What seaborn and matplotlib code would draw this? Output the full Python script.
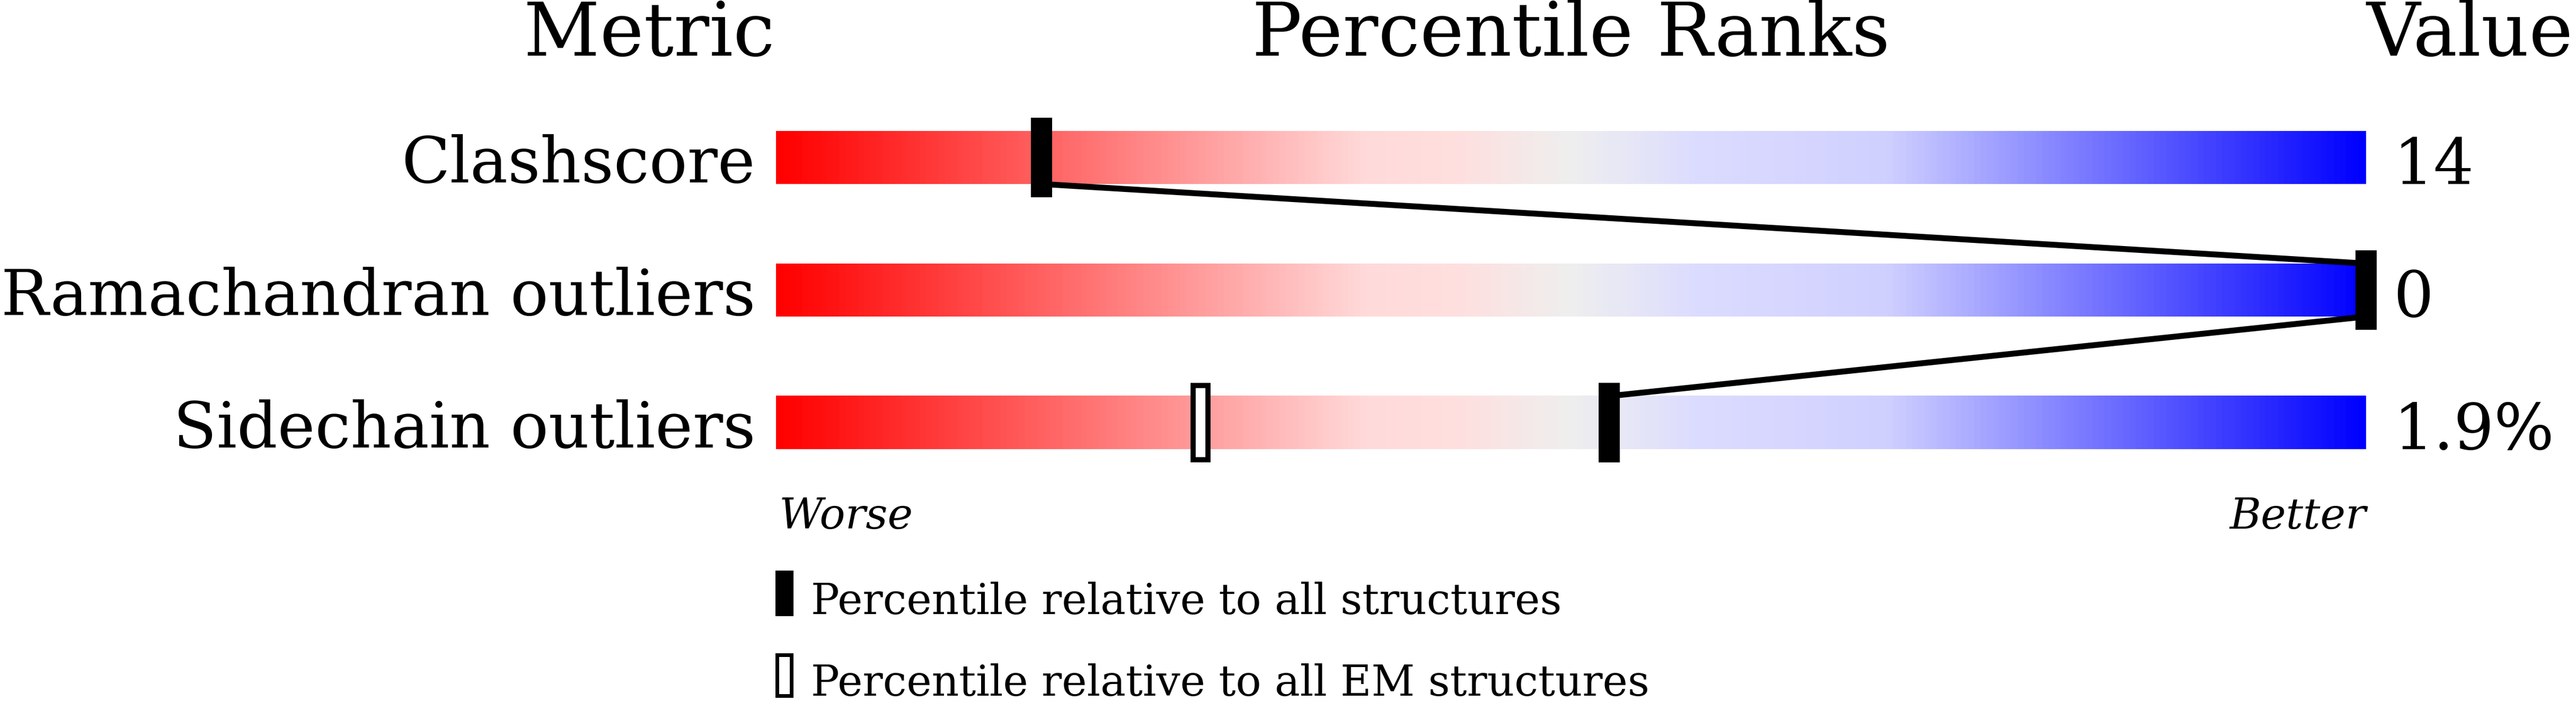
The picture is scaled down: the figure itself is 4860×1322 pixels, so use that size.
import numpy as np
import pandas as pd
import matplotlib
matplotlib.use("Agg")
import matplotlib.pyplot as plt
import seaborn as sns
from matplotlib.colors import LinearSegmentedColormap
from matplotlib.patches import Rectangle

# data
metrics = ["Clashscore", "Ramachandran outliers", "Sidechain outliers"]
values = ["14", "0", "1.9%"]
pct_all = [16.7, 100.0, 52.4]          # percentile relative to all structures
pct_em = [None, None, 26.7]            # percentile relative to all EM structures
legend_labels = ["Percentile relative to all structures",
                 "Percentile relative to all EM structures"]

sns.set_style("white")
plt.rcParams['font.family'] = ['DejaVu Serif']
plt.rcParams['text.color'] = 'black'

W, H, DPI = 4860, 1322, 100
fig = plt.figure(figsize=(W / DPI, H / DPI), dpi=DPI)
# bar area 1464..4464 px, rows every 250 px starting at 297 px
ax = fig.add_axes([1464 / W, 0, 3000 / W, 1])
ax.axis('off')

# slider colours, red (worse) -> grey -> blue (better)
slider = LinearSegmentedColormap.from_list("slider", [
    (0.0, "#ff0000"), (0.37, "#ffdada"), (0.43, "#ffdfdf"),
    (0.5, "#efefef"), (0.58, "#dcdcff"), (0.70, "#d0d0ff"), (1.0, "#0000ff")])
grad = np.linspace(0, 1, 600).reshape(1, -1)

bar_h = 0.4
for i, name in enumerate(metrics):
    ax.imshow(grad, cmap=slider, aspect='auto', interpolation='bilinear',
              extent=(0, 100, i + bar_h / 2, i - bar_h / 2), zorder=1)
    ax.text(-1.3, i + 0.19, name, ha='right', va='baseline', fontsize=86)
    ax.text(101.7, i + 0.2, values[i], ha='left', va='baseline', fontsize=86)

# connecting line through the "all structures" markers
pts = []
for i, p in enumerate(pct_all):
    if i > 0:
        pts.append((p, i - bar_h / 2))
    if i < len(pct_all) - 1:
        pts.append((p, i + bar_h / 2))
line_df = pd.DataFrame(pts, columns=["pct", "row"])
sns.lineplot(data=line_df, x="pct", y="row", sort=False, color="black",
             linewidth=8, ax=ax, zorder=2, estimator=None)

mw, mh = 1.33, 0.6
for i, p in enumerate(pct_all):
    ax.add_patch(Rectangle((p - mw / 2, i - mh / 2), mw, mh, facecolor='black',
                           edgecolor='none', zorder=3, clip_on=False))
for i, p in enumerate(pct_em):
    if p is None:
        continue
    ax.add_patch(Rectangle((p - 0.47, i - 0.28), 0.94, 0.56, facecolor='white',
                           edgecolor='black', lw=7, zorder=3, clip_on=False))

# headers
ax.text(-0.07, -0.768, "Metric", ha='right', va='baseline', fontsize=101)
ax.text(50, -0.768, "Percentile Ranks", ha='center', va='baseline', fontsize=101)
ax.text(100, -0.768, "Value", ha='left', va='baseline', fontsize=101)

ax.text(0.2, 2.8, "Worse", ha='left', va='baseline', fontsize=58, style='italic')
ax.text(100, 2.8, "Better", ha='right', va='baseline', fontsize=58, style='italic')

# legend
ax.add_patch(Rectangle((-0.03, 3.116), 1.13, 0.344, facecolor='black',
                       edgecolor='none', clip_on=False))
ax.text(2.2, 3.444, legend_labels[0], ha='left', va='baseline', fontsize=57.5)
ax.add_patch(Rectangle((0.08, 3.75), 0.9, 0.31, facecolor='white',
                       edgecolor='black', lw=5, clip_on=False))
ax.text(2.2, 4.06, legend_labels[1], ha='left', va='baseline', fontsize=57.5)

ax.set_xlim(0, 100)
ax.set_ylim((H - 297) / 250, -297 / 250)
ax.set_xlabel("")
ax.set_ylabel("")

fig.savefig("out.png", dpi=DPI, facecolor='white')
